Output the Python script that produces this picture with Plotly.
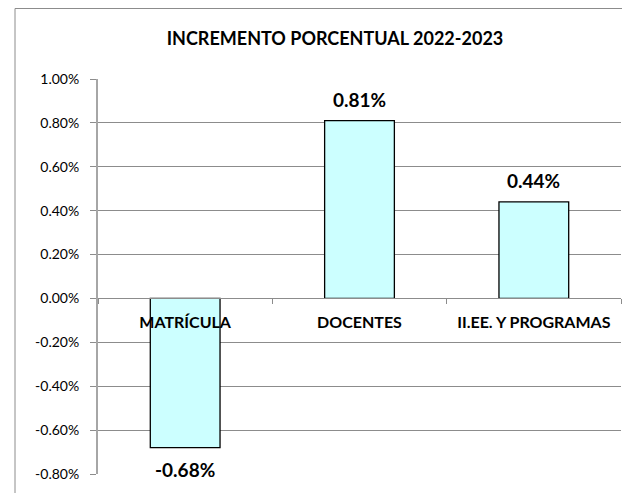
import plotly.graph_objects as go

categories = ["MATRÍCULA", "DOCENTES", "II.EE. Y PROGRAMAS"]
values = [-0.0068, 0.0081, 0.0044]
title_text = "INCREMENTO PORCENTUAL 2022-2023"
y_ticks = [-0.008, -0.006, -0.004, -0.002, 0.0, 0.002, 0.004, 0.006, 0.008, 0.010]
y_tick_labels = ["-0.80%", "-0.60%", "-0.40%", "-0.20%", "0.00%",
                 "0.20%", "0.40%", "0.60%", "0.80%", "1.00%"]

FONT = "Lato"
# page body has an 8px margin, so the figure is drawn at (8, 8)
W, H = 622, 485
ml, mr, mt, mb = 90, 9, 71, 19
pw, ph = W - ml - mr, H - mt - mb
ymin, ymax = -0.008, 0.010

fig = go.Figure()
fig.add_trace(go.Bar(
    x=categories, y=values, width=0.4,
    marker=dict(color="#CCFFFF", line=dict(color="#000000", width=1.3)),
    showlegend=False, hoverinfo="skip",
))

# data labels
for c, v in zip(categories, values):
    fig.add_annotation(
        x=c, y=v, text="<b>%.2f%%</b>" % (v * 100), showarrow=False,
        yshift=21 if v >= 0 else -22, yanchor="middle",
        font=dict(family=FONT, size=19, color="#000000"),
    )

zero_pos = (0 - ymin) / (ymax - ymin)

fig.update_layout(
    width=W, height=H,
    margin=dict(l=ml, r=mr, t=mt, b=mb),
    paper_bgcolor="white", plot_bgcolor="white",
    font=dict(family=FONT, size=14, color="#000000"),
    title=dict(text="<b>" + title_text + "</b>", x=327 / W, xanchor="center",
               y=1 - 31 / H, yanchor="middle",
               font=dict(family=FONT, size=18, color="#000000")),
    xaxis=dict(
        anchor="free", position=zero_pos,
        showline=True, linecolor="#8C8C8C", linewidth=1,
        ticks="outside", tickson="boundaries", ticklen=5, tickcolor="#8C8C8C",
        tickfont=dict(family=FONT, size=16, color="#000000"),
        ticklabelstandoff=9,
        showgrid=False, zeroline=False, layer="above traces",
        range=[-0.5, 2.5],
        tickvals=categories, ticktext=["<b>%s</b>" % c for c in categories],
    ),
    yaxis=dict(
        range=[ymin, ymax], tickvals=y_ticks, ticktext=y_tick_labels,
        showgrid=True, gridcolor="#8C8C8C", gridwidth=1,
        zeroline=False, showline=True, linecolor="#A6A6A6", linewidth=2,
        ticks="outside", ticklen=6, tickcolor="#8C8C8C",
        tickfont=dict(family=FONT, size=14, color="#000000"),
        ticklabelstandoff=8,
    ),
    bargap=0.6,
)

# outer chart border (top & left visible)
fig.add_shape(type="rect", xref="paper", yref="paper",
              x0=(7 - ml) / pw, x1=1 + 40 / pw,
              y0=-60 / ph, y1=1 + (mt - 0.5) / ph,
              line=dict(color="#8C8C8C", width=1), fillcolor="rgba(0,0,0,0)", layer="below")

fig.write_html("out.html")
